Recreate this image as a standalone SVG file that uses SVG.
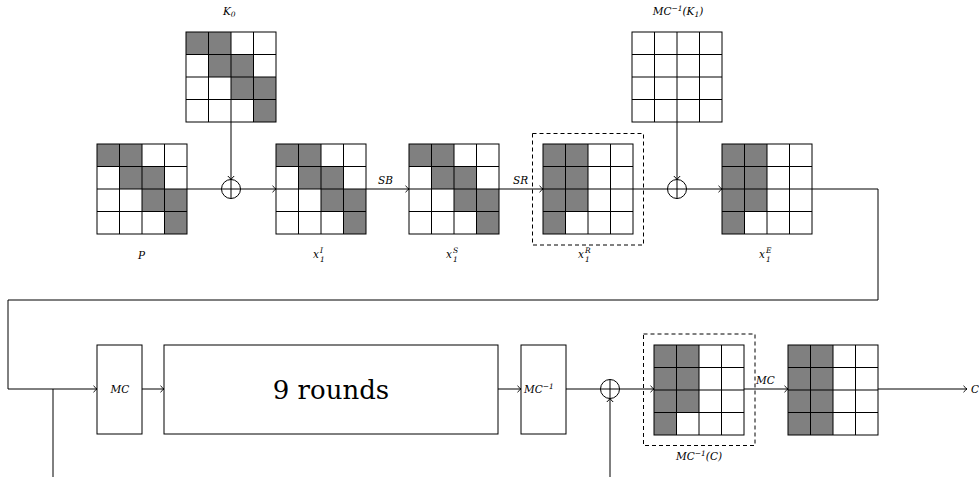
<svg xmlns="http://www.w3.org/2000/svg" xmlns:xlink="http://www.w3.org/1999/xlink" width="979" height="477" viewBox="0 0 979 477">
<style>
.ln{stroke:#000;stroke-width:1;fill:none}
.gc{fill:#808080}
.bx{stroke:#000;stroke-width:1;fill:#fff}
.ds{stroke:#000;stroke-width:1;fill:none;stroke-dasharray:4,3}
text{font-family:"DejaVu Serif",serif;fill:#000}
.t{font-style:italic;font-size:10.5px}
.big{font-size:26px}
.sm{font-size:7.5px}
</style>
<defs>
<marker id="ar" markerUnits="userSpaceOnUse" markerWidth="10" markerHeight="10" viewBox="-5 -5 10 10" refX="0" refY="0" orient="auto" overflow="visible">
<path d="M-3.5,-3.2 Q-1.2,-0.8 0,0 Q-1.2,0.8 -3.5,3.2" fill="none" stroke="#000" stroke-width="1"/>
</marker>
<g id="lines">
<rect x="0" y="0" width="90" height="90" fill="none" stroke="#000" stroke-width="1"/>
<path d="M22.5,0V90M45,0V90M67.5,0V90M0,22.5H90M0,45H90M0,67.5H90" stroke="#000" stroke-width="1"/>
</g>
<g id="patA">
<rect x="0" y="0" width="90" height="90" fill="#fff"/>
<rect class="gc" x="0" y="0" width="45" height="22.5"/>
<rect class="gc" x="22.5" y="22.5" width="45" height="22.5"/>
<rect class="gc" x="45" y="45" width="45" height="22.5"/>
<rect class="gc" x="67.5" y="67.5" width="22.5" height="22.5"/>
<use xlink:href="#lines" href="#lines"/>
</g>
<g id="patB">
<rect x="0" y="0" width="90" height="90" fill="#fff"/>
<rect class="gc" x="0" y="0" width="45" height="67.5"/>
<rect class="gc" x="0" y="67.5" width="22.5" height="22.5"/>
<use xlink:href="#lines" href="#lines"/>
</g>
<g id="patC">
<rect x="0" y="0" width="90" height="90" fill="#fff"/>
<rect class="gc" x="0" y="0" width="45" height="90"/>
<use xlink:href="#lines" href="#lines"/>
</g>
<g id="patW">
<rect x="0" y="0" width="90" height="90" fill="#fff"/>
<use xlink:href="#lines" href="#lines"/>
</g>
</defs>
<rect width="979" height="477" fill="#fff"/>

<g id="connectors">
<path class="ln" d="M187,189H276" marker-end="url(#ar)"/>
<path class="ln" d="M231,122V179.5" marker-end="url(#ar)"/>
<path class="ln" d="M231,179.5V198.5"/>
<circle class="ln" cx="231" cy="189" r="9.5"/>
<path class="ln" d="M366,189H409" marker-end="url(#ar)"/>
<path class="ln" d="M499,189H543" marker-end="url(#ar)"/>
<path class="ln" d="M633,189H722" marker-end="url(#ar)"/>
<path class="ln" d="M677,122V179.5" marker-end="url(#ar)"/>
<path class="ln" d="M677,179.5V198.5"/>
<circle class="ln" cx="677" cy="189" r="9.5"/>
<path class="ln" d="M812,189H878V300H8V389H97" marker-end="url(#ar)"/>
<path class="ln" d="M53,389V477"/>
<path class="ln" d="M142,389H164" marker-end="url(#ar)"/>
<path class="ln" d="M498,389H521" marker-end="url(#ar)"/>
<path class="ln" d="M566,389H654" marker-end="url(#ar)"/>
<path class="ln" d="M610,477V398.5" marker-end="url(#ar)"/>
<path class="ln" d="M610,398.5V379.5"/>
<circle class="ln" cx="610" cy="389" r="9.5"/>
<path class="ln" d="M744,389H788" marker-end="url(#ar)"/>
<path class="ln" d="M878,389H967" marker-end="url(#ar)"/>
<text class="t" x="378" y="184">SB</text>
<text class="t" x="513" y="184">SR</text>
<text class="t" x="756" y="384">MC</text>
</g>

<g id="K0">
<use xlink:href="#patA" href="#patA" x="186" y="32"/>
<text class="t" x="223" y="15">K<tspan class="sm" dy="2">0</tspan></text>
</g>
<g id="P">
<use xlink:href="#patA" href="#patA" x="97" y="144"/>
<text class="t" x="138" y="259">P</text>
</g>
<g id="x1I">
<use xlink:href="#patA" href="#patA" x="276" y="144"/>
<text class="t" x="313" y="258">x</text>
<text class="t sm" x="320" y="253">I</text>
<text class="t sm" x="320" y="262">1</text>
</g>
<g id="x1S">
<use xlink:href="#patA" href="#patA" x="409" y="144"/>
<text class="t" x="446" y="258">x</text>
<text class="t sm" x="453" y="253">S</text>
<text class="t sm" x="453" y="262">1</text>
</g>
<g id="x1R">
<rect class="ds" x="532.5" y="133.5" width="111" height="111.5"/>
<use xlink:href="#patB" href="#patB" x="543" y="144"/>
<text class="t" x="578" y="258">x</text>
<text class="t sm" x="585" y="253">R</text>
<text class="t sm" x="585" y="262">1</text>
</g>
<g id="MCinvK1">
<use xlink:href="#patW" href="#patW" x="632" y="32"/>
<text class="t" x="678" y="15" text-anchor="middle">MC<tspan class="sm" dy="-4">−1</tspan><tspan dy="4">(K</tspan><tspan class="sm" dy="2">1</tspan><tspan dy="-2">)</tspan></text>
</g>
<g id="x1E">
<use xlink:href="#patB" href="#patB" x="722" y="144"/>
<text class="t" x="759" y="258">x</text>
<text class="t sm" x="766" y="253">E</text>
<text class="t sm" x="766" y="262">1</text>
</g>
<g id="MC">
<rect class="bx" x="97" y="345" width="45" height="89"/>
<text class="t" x="120" y="393" text-anchor="middle">MC</text>
</g>
<g id="rounds">
<rect class="bx" x="164" y="345" width="334" height="89"/>
<text class="big" x="331" y="399" text-anchor="middle">9 rounds</text>
</g>
<g id="MCinv">
<rect class="bx" x="521" y="345" width="45" height="89"/>
<text class="t" x="524" y="393">MC<tspan class="sm" dy="-4">−1</tspan></text>
</g>
<g id="MCinvC">
<rect class="ds" x="643.5" y="334" width="111.5" height="111.5"/>
<use xlink:href="#patB" href="#patB" x="654" y="345"/>
<text class="t" x="699" y="460" text-anchor="middle">MC<tspan class="sm" dy="-4">−1</tspan><tspan dy="4">(C)</tspan></text>
</g>
<g id="final">
<use xlink:href="#patC" href="#patC" x="788" y="345"/>
</g>
<g id="Cout">
<text class="t" x="971" y="393">C</text>
</g>
</svg>
